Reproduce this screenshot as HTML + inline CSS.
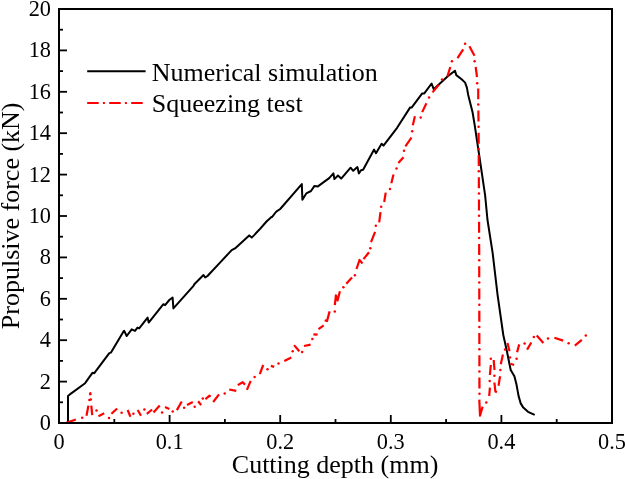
<!DOCTYPE html>
<html><head><meta charset="utf-8"><style>
html,body{margin:0;padding:0;background:#fff;}
body{width:625px;height:479px;overflow:hidden;}
svg{display:block;will-change:transform;font-family:"Liberation Serif",serif;}
</style></head><body>
<svg width="625" height="479" viewBox="0 0 625 479">
<rect x="0" y="0" width="625" height="479" fill="#fff"/>
<g stroke="#000" stroke-width="1.8" fill="none"><line x1="59.00" y1="423" x2="59.00" y2="415"/><line x1="114.30" y1="423" x2="114.30" y2="419"/><line x1="169.60" y1="423" x2="169.60" y2="415"/><line x1="224.90" y1="423" x2="224.90" y2="419"/><line x1="280.20" y1="423" x2="280.20" y2="415"/><line x1="335.50" y1="423" x2="335.50" y2="419"/><line x1="390.80" y1="423" x2="390.80" y2="415"/><line x1="446.10" y1="423" x2="446.10" y2="419"/><line x1="501.40" y1="423" x2="501.40" y2="415"/><line x1="556.70" y1="423" x2="556.70" y2="419"/><line x1="612.00" y1="423" x2="612.00" y2="415"/><line x1="59" y1="423.00" x2="67" y2="423.00"/><line x1="59" y1="402.30" x2="63" y2="402.30"/><line x1="59" y1="381.60" x2="67" y2="381.60"/><line x1="59" y1="360.90" x2="63" y2="360.90"/><line x1="59" y1="340.20" x2="67" y2="340.20"/><line x1="59" y1="319.50" x2="63" y2="319.50"/><line x1="59" y1="298.80" x2="67" y2="298.80"/><line x1="59" y1="278.10" x2="63" y2="278.10"/><line x1="59" y1="257.40" x2="67" y2="257.40"/><line x1="59" y1="236.70" x2="63" y2="236.70"/><line x1="59" y1="216.00" x2="67" y2="216.00"/><line x1="59" y1="195.30" x2="63" y2="195.30"/><line x1="59" y1="174.60" x2="67" y2="174.60"/><line x1="59" y1="153.90" x2="63" y2="153.90"/><line x1="59" y1="133.20" x2="67" y2="133.20"/><line x1="59" y1="112.50" x2="63" y2="112.50"/><line x1="59" y1="91.80" x2="67" y2="91.80"/><line x1="59" y1="71.10" x2="63" y2="71.10"/><line x1="59" y1="50.40" x2="67" y2="50.40"/><line x1="59" y1="29.70" x2="63" y2="29.70"/><line x1="59" y1="9.00" x2="67" y2="9.00"/></g>
<polyline points="68,423 68,396 70.9,393.6 85.1,383.2 92.6,372.7 94.3,373.2 109.3,353.1 111,352.6 123.5,331.4 124.2,330.9 126.7,336 131.7,329.3 135,330.9 137.5,327.6 139.2,328.4 147.6,317.6 148.7,322.6 163.4,304.2 165.1,305.1 169.3,300 172.6,297.5 173.4,308.4 193.5,285.9 194.3,284.2 203.5,275 205.2,277.5 207.5,276 220,262.6 231.7,250.1 235,248.4 249.2,235.4 251.7,237.6 254.2,235.1 259.2,229.8 266.5,221.5 271.2,217.2 272.2,216.8 275.9,212 277.4,210.8 280.2,209 301.8,184.1 302.4,199.7 306.4,193.3 311,191 314.5,185.9 317.9,186.4 325.4,180.9 329.2,178.1 333.4,173.4 334.4,179.1 338,175.5 339.6,177.1 341.2,178.6 350.6,167.7 353.2,170.8 357.4,167.1 358.9,173.4 361,170.3 363.1,169.8 374.1,149.6 376,153.2 381.6,143.8 383.5,145.6 397.1,127.8 410.2,107.4 411.8,107.4 422.2,93.4 424.3,93.4 431.6,83.5 433.7,89.2 447.5,76.4 455,70.7 456.3,75.1 461.9,79.5 465.1,82.6 466.9,87.6 468.2,95 472.5,111.9 474.7,125.1 479.9,160 485.1,195.2 487.5,220 492.6,252.6 497.6,295.2 503.3,335 507,351.7 509.5,364.2 510.7,370 514.4,376.3 516.5,384.6 518.6,396.1 520.7,403.4 523.3,407.6 528,411.8 534.7,414.9" fill="none" stroke="#000" stroke-width="2" stroke-linejoin="round"/>
<g fill="none" stroke="#ff0000" stroke-width="2.2" stroke-linejoin="round"><polyline points="66.3,422.9 75.9,419.5"/><circle cx="82.2" cy="417.8" r="1.25" stroke="none" fill="#ff0000"/><polyline points="86.5,415.7 88.4,405.6"/><circle cx="89.4" cy="399.9" r="1.25" stroke="none" fill="#ff0000"/><circle cx="90.8" cy="399.4" r="1.25" stroke="none" fill="#ff0000"/><polyline points="89.9,395.2 90.3,393.2 90.6,395.2"/><polyline points="91.3,405.6 92.2,415.2"/><circle cx="96.5" cy="410.4" r="1.25" stroke="none" fill="#ff0000"/><polyline points="98.5,416.2 104.2,413.3"/><circle cx="109" cy="418.1" r="1.25" stroke="none" fill="#ff0000"/><polyline points="111.4,413.8 117.2,408.5"/><circle cx="121.6" cy="412.8" r="1.25" stroke="none" fill="#ff0000"/><polyline points="127.6,410 130.5,416.7"/><circle cx="133.4" cy="413.8" r="1.25" stroke="none" fill="#ff0000"/><polyline points="137.7,410 141,415.7"/><circle cx="144.4" cy="409.5" r="1.25" stroke="none" fill="#ff0000"/><polyline points="146.8,413.8 152.1,409.5"/><polyline points="153.5,412.4 159.7,405.6"/><circle cx="162.1" cy="412.4" r="1.25" stroke="none" fill="#ff0000"/><polyline points="165,407.1 169.3,409"/><circle cx="172.7" cy="411.4" r="1.25" stroke="none" fill="#ff0000"/><polyline points="176.9,410.1 181.7,401.5"/><circle cx="184.1" cy="407.8" r="1.25" stroke="none" fill="#ff0000"/><polyline points="187,404.9 192.8,402"/><circle cx="194.7" cy="406.8" r="1.25" stroke="none" fill="#ff0000"/><polyline points="198.1,401.2 201.2,405.1"/><circle cx="202.8" cy="398.6" r="1.25" stroke="none" fill="#ff0000"/><polyline points="205.4,399.1 209.6,395.7 210.6,396.7"/><polyline points="213.2,402 219,394.4"/><circle cx="224.7" cy="393.6" r="1.25" stroke="none" fill="#ff0000"/><polyline points="229.2,389.5 236.3,390.9"/><polyline points="237.8,385.1 242.6,382.2 245,384.6"/><polyline points="246.9,389.9 250.7,380.8"/><circle cx="254.6" cy="377" r="1.25" stroke="none" fill="#ff0000"/><polyline points="259.8,374.1 263.2,365"/><circle cx="267.5" cy="369.3" r="1.25" stroke="none" fill="#ff0000"/><polyline points="270.9,365.9 274.2,366.9"/><circle cx="278.5" cy="363.5" r="1.25" stroke="none" fill="#ff0000"/><polyline points="284.3,361.1 291.3,357.5"/><circle cx="292.7" cy="351.2" r="1.25" stroke="none" fill="#ff0000"/><polyline points="294.1,345.1 299.3,351.2"/><circle cx="302.1" cy="352.1" r="1.25" stroke="none" fill="#ff0000"/><polyline points="304,346 310.6,344.6"/><circle cx="312.4" cy="339" r="1.25" stroke="none" fill="#ff0000"/><polyline points="313.4,334.3 317.6,334.7"/><polyline points="318.5,329.1 323.7,325.3"/><polyline points="324.7,320.2 327,321.1 329.6,311.4"/><circle cx="334.8" cy="311.4" r="1.25" stroke="none" fill="#ff0000"/><polyline points="334.8,305.1 335.9,295.3 337.6,300.5 339.9,291.3"/><circle cx="343.4" cy="287.3" r="1.25" stroke="none" fill="#ff0000"/><polyline points="346.3,283.8 352,277.5"/><circle cx="354.9" cy="275.2" r="1.25" stroke="none" fill="#ff0000"/><polyline points="356.5,269 359.5,260 362.5,263.5"/><polyline points="363.5,259.1 369,252.3"/><circle cx="370.3" cy="248.2" r="1.25" stroke="none" fill="#ff0000"/><polyline points="371,242.1 375.1,231.9"/><circle cx="375.8" cy="225.8" r="1.25" stroke="none" fill="#ff0000"/><polyline points="379.2,222.4 380.5,212.2"/><circle cx="381.2" cy="206.8" r="1.25" stroke="none" fill="#ff0000"/><polyline points="384.2,202 385.7,192.6"/><circle cx="390" cy="188.9" r="1.25" stroke="none" fill="#ff0000"/><polyline points="391.3,183.2 393.5,174.4"/><circle cx="396.5" cy="168.5" r="1.25" stroke="none" fill="#ff0000"/><polyline points="398.3,162.9 403.5,157.3"/><circle cx="404" cy="150.7" r="1.25" stroke="none" fill="#ff0000"/><polyline points="405.4,146.4 411.5,137.5"/><circle cx="412.2" cy="131.2" r="1.25" stroke="none" fill="#ff0000"/><polyline points="412.8,125.2 414.9,116.3"/><circle cx="420.7" cy="117.4" r="1.25" stroke="none" fill="#ff0000"/><polyline points="422.2,112.1 426.4,103.3"/><circle cx="429" cy="97.5" r="1.25" stroke="none" fill="#ff0000"/><polyline points="432.5,92.4 438.8,84.7"/><circle cx="442" cy="79.4" r="1.25" stroke="none" fill="#ff0000"/><polyline points="447.4,76.5 450.3,67"/><circle cx="451.9" cy="61.3" r="1.25" stroke="none" fill="#ff0000"/><polyline points="457.5,58.2 463.2,49.4"/><circle cx="465.1" cy="43.8" r="1.25" stroke="none" fill="#ff0000"/><polyline points="469.4,46.3 474.5,55.7"/><circle cx="474.6" cy="61.3" r="1.25" stroke="none" fill="#ff0000"/><polyline points="475.7,67 477,77"/><circle cx="477.2" cy="83.2" r="1.25" stroke="none" fill="#ff0000"/><polyline points="478.20,88.50 478.25,99.26"/><circle cx="478.31" cy="104.56" r="1.25" stroke="none" fill="#ff0000"/><polyline points="478.38,110.50 478.50,121.50"/><circle cx="478.56" cy="126.80" r="1.25" stroke="none" fill="#ff0000"/><polyline points="478.61,132.74 478.67,143.74"/><circle cx="478.70" cy="149.04" r="1.25" stroke="none" fill="#ff0000"/><polyline points="478.72,154.98 478.78,165.98"/><circle cx="478.81" cy="171.28" r="1.25" stroke="none" fill="#ff0000"/><polyline points="478.84,177.22 478.89,188.22"/><circle cx="478.92" cy="193.52" r="1.25" stroke="none" fill="#ff0000"/><polyline points="478.95,199.46 479.00,210.46"/><circle cx="479.03" cy="215.76" r="1.25" stroke="none" fill="#ff0000"/><polyline points="479.06,221.70 479.11,232.70"/><circle cx="479.14" cy="238.00" r="1.25" stroke="none" fill="#ff0000"/><polyline points="479.17,243.94 479.21,254.94"/><circle cx="479.22" cy="260.24" r="1.25" stroke="none" fill="#ff0000"/><polyline points="479.23,266.18 479.25,277.18"/><circle cx="479.26" cy="282.48" r="1.25" stroke="none" fill="#ff0000"/><polyline points="479.27,288.42 479.29,299.42"/><circle cx="479.30" cy="304.72" r="1.25" stroke="none" fill="#ff0000"/><polyline points="479.31,310.66 479.33,321.66"/><circle cx="479.34" cy="326.96" r="1.25" stroke="none" fill="#ff0000"/><polyline points="479.35,332.90 479.37,343.90"/><circle cx="479.38" cy="349.20" r="1.25" stroke="none" fill="#ff0000"/><polyline points="479.39,355.14 479.41,366.14"/><circle cx="479.42" cy="371.44" r="1.25" stroke="none" fill="#ff0000"/><polyline points="479.43,377.38 479.45,388.38"/><circle cx="479.46" cy="393.68" r="1.25" stroke="none" fill="#ff0000"/><polyline points="479.3,399.6 480,415.7 482.6,406.6"/><circle cx="486.3" cy="402.5" r="1.25" stroke="none" fill="#ff0000"/><polyline points="489.2,396 489.9,387.6"/><circle cx="489.7" cy="381" r="1.25" stroke="none" fill="#ff0000"/><polyline points="489.9,375 490.8,365"/><circle cx="490.8" cy="358.8" r="1.25" stroke="none" fill="#ff0000"/><polyline points="493.7,360 494.5,370"/><circle cx="494.4" cy="375.7" r="1.25" stroke="none" fill="#ff0000"/><polyline points="494.4,382.5 495.4,391.6 496.9,392.3"/><polyline points="498.5,385.7 500.1,376.3"/><circle cx="500.4" cy="370" r="1.25" stroke="none" fill="#ff0000"/><polyline points="500.8,364.2 502.9,354.6"/><circle cx="505" cy="349.6" r="1.25" stroke="none" fill="#ff0000"/><polyline points="507.5,342.9 509.5,351.3"/><circle cx="510" cy="357.5" r="1.25" stroke="none" fill="#ff0000"/><polyline points="510.4,363.8 514.1,365"/><circle cx="516.6" cy="358.8" r="1.25" stroke="none" fill="#ff0000"/><polyline points="517.1,352.3 519.2,344.4"/><circle cx="524.6" cy="343.4" r="1.25" stroke="none" fill="#ff0000"/><polyline points="527.1,349.6 531.3,342.5"/><circle cx="533.8" cy="337.1" r="1.25" stroke="none" fill="#ff0000"/><polyline points="536.7,335.4 543.4,343"/><circle cx="548" cy="338.4" r="1.25" stroke="none" fill="#ff0000"/><polyline points="554.4,337.7 563.1,340.6"/><circle cx="568.6" cy="343.2" r="1.25" stroke="none" fill="#ff0000"/><polyline points="574.8,345.7 581.8,339.9"/><circle cx="585.8" cy="335.5" r="1.25" stroke="none" fill="#ff0000"/></g>
<rect x="59" y="9" width="553" height="414" fill="none" stroke="#000" stroke-width="2"/>
<g font-size="23" fill="#000"><text transform="translate(59.00,448.7) scale(0.97,1.04)" text-anchor="middle">0</text><text transform="translate(169.60,448.7) scale(0.97,1.04)" text-anchor="middle">0.1</text><text transform="translate(280.20,448.7) scale(0.97,1.04)" text-anchor="middle">0.2</text><text transform="translate(390.80,448.7) scale(0.97,1.04)" text-anchor="middle">0.3</text><text transform="translate(501.40,448.7) scale(0.97,1.04)" text-anchor="middle">0.4</text><text transform="translate(612.00,448.7) scale(0.97,1.04)" text-anchor="middle">0.5</text><text transform="translate(51,429.90) scale(0.97,1.04)" text-anchor="end">0</text><text transform="translate(51,388.50) scale(0.97,1.04)" text-anchor="end">2</text><text transform="translate(51,347.10) scale(0.97,1.04)" text-anchor="end">4</text><text transform="translate(51,305.70) scale(0.97,1.04)" text-anchor="end">6</text><text transform="translate(51,264.30) scale(0.97,1.04)" text-anchor="end">8</text><text transform="translate(51,222.90) scale(0.97,1.04)" text-anchor="end">10</text><text transform="translate(51,181.50) scale(0.97,1.04)" text-anchor="end">12</text><text transform="translate(51,140.10) scale(0.97,1.04)" text-anchor="end">14</text><text transform="translate(51,98.70) scale(0.97,1.04)" text-anchor="end">16</text><text transform="translate(51,57.30) scale(0.97,1.04)" text-anchor="end">18</text><text transform="translate(51,15.90) scale(0.97,1.04)" text-anchor="end">20</text></g>
<text x="231.8" y="472.5" font-size="26" fill="#000">Cutting depth (mm)</text>
<text transform="translate(18.75,329.2) rotate(-90)" x="0" y="0" font-size="26" fill="#000">Propulsive force (kN)</text>
<line x1="87.2" y1="71.3" x2="145.6" y2="71.3" stroke="#000" stroke-width="1.9"/>
<line x1="87.2" y1="103" x2="145.6" y2="103" stroke="#ff0000" stroke-width="2.2" stroke-dasharray="11.5 4.2 2 4.3"/>
<text x="151.8" y="80.6" font-size="26" fill="#000">Numerical simulation</text>
<text x="151.8" y="111.8" font-size="26" fill="#000">Squeezing test</text>
</svg>
</body></html>
